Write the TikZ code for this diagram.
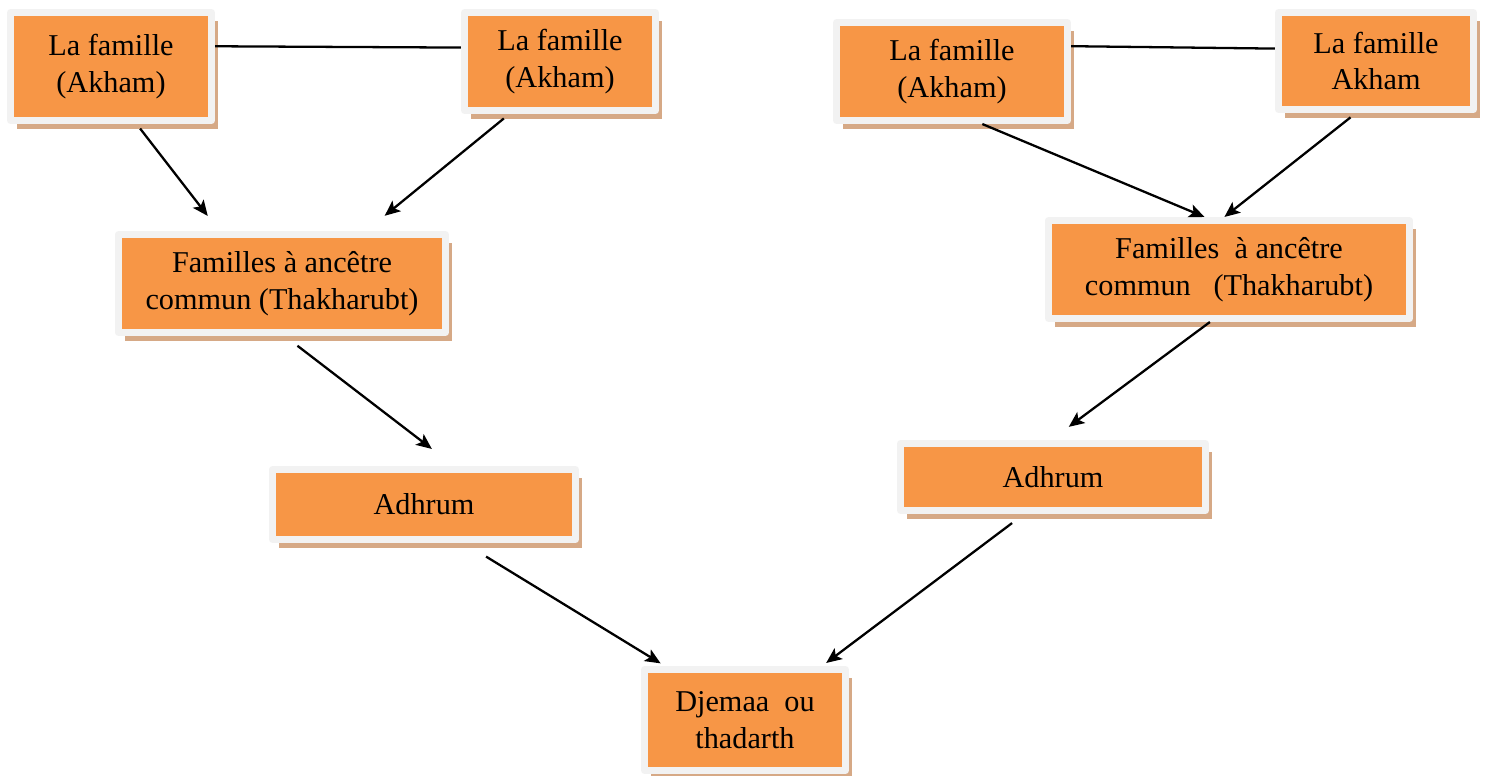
\documentclass[tikz,border=0pt]{standalone}
\usepackage{fontspec}
\setmainfont{Liberation Serif}
\usetikzlibrary{arrows.meta,shadows}

\definecolor{orangebox}{HTML}{F79646}
\definecolor{grisclair}{HTML}{F2F2F2}
\definecolor{ombre}{HTML}{D6A986}

\tikzset{
  boite/.style={draw=grisclair, line width=0.07cm, fill=orangebox, align=center,
    inner sep=0pt, font=\fontsize{8.6}{10.4}\selectfont,
    drop shadow={shadow xshift=0.065cm, shadow yshift=-0.085cm, fill=ombre, opacity=1}},
  taille/.style 2 args={minimum width=#1cm, minimum height=#2cm},
  fleche/.style={-{Stealth[length=4.4pt,width=3.8pt,inset=1pt]}, line width=0.65pt},
  lien/.style={line width=0.65pt}
}

\begin{document}
\begin{tikzpicture}[x=0.01cm,y=-0.01cm,line join=round]
            \useasboundingbox (0,0) rectangle (1485,776);

            % les familles (Akham)
            \node[boite, taille={2.01}{1.08}] (f1) at (111,66.5) {La famille\\(Akham)};
            \node[boite, taille={1.91}{0.98}] (f2) at (560,61.5) {La famille\\(Akham)};
            \node[boite, taille={2.31}{0.98}] (f3) at (952,71.5) {La famille\\(Akham)};
            \node[boite, taille={1.95}{0.97}] (f4) at (1376,61) {La famille\\Akham};

            % Thakharubt
            \node[boite, taille={3.27}{0.98}] (t1) at (282,283.5) {Familles  à ancêtre\\commun (Thakharubt)};
            \node[boite, taille={3.61}{0.98}] (t2) at (1229,269.5) {Familles~ à ancêtre\\commun~~ (Thakharubt)};

            % Adhrum
            \node[boite, taille={3.03}{0.70}] (a1) at (424,504.5) {Adhrum};
            \node[boite, taille={3.05}{0.67}] (a2) at (1053,477) {Adhrum};

            % Djemaa
            \node[boite, taille={2.01}{1.01}] (dj) at (745,720) {Djemaa~ ou\\thadarth};

            % liens entre familles
            \draw[lien] (f1.11) -- (f2.172);
            \draw[lien] (f3.12) -- (f4.173);

            % flèches
            \draw[fleche, shorten <=0.057cm, shorten >=0.19cm] (f1.-66) -- (t1.140);
            \draw[fleche, shorten <=0.07cm, shorten >=0.24cm] (f2.-134) -- (t1.32);
            \draw[fleche] (f3.-60) -- (t2.115);
            \draw[fleche, shorten <=0.07cm] (f4.-111) -- (t2.95);
            \draw[fleche, shorten <=0.16cm, shorten >=0.28cm] (t1.-87) -- (a1.52);
            \draw[fleche, shorten >=0.22cm] (t2.-110) -- (a2.93);
            \draw[fleche, shorten <=0.26cm, shorten >=0.05cm] (a1.-44) -- (dj.146);
            \draw[fleche, shorten <=0.15cm, shorten >=0.05cm] (a2.-128) -- (dj.35);
        \end{tikzpicture}
\end{document}
